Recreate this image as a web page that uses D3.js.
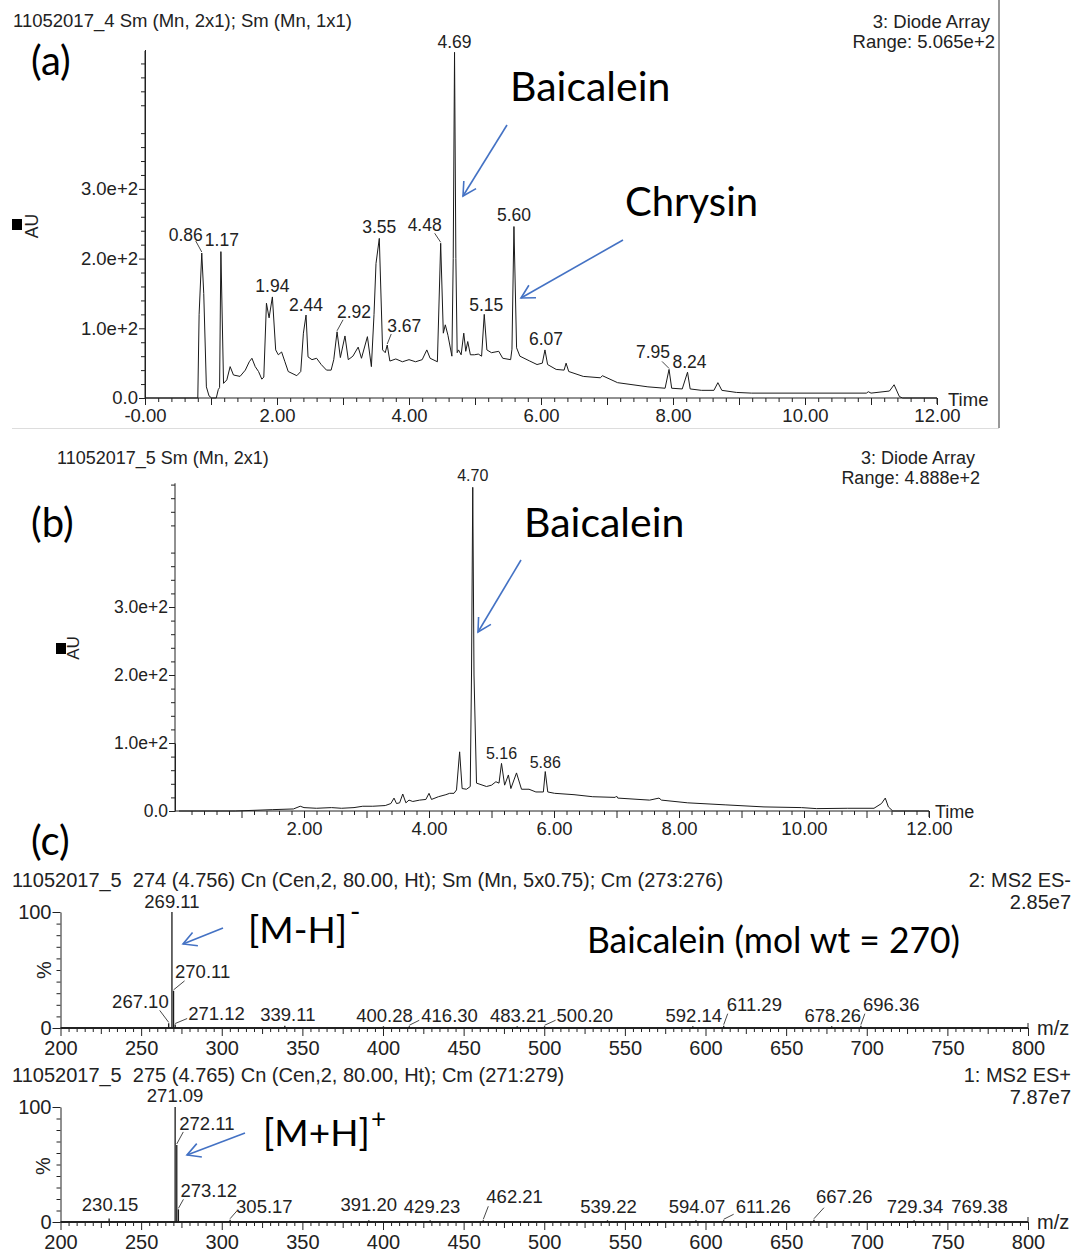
<!DOCTYPE html>
<meta charset="utf-8">
<head>
<title>Baicalein / Chrysin chromatograms</title>
<script src="https://cdn.jsdelivr.net/npm/d3@7/dist/d3.min.js"></script>
<style>
  body { margin: 0; background: #fff; }
  svg text { font-family: "Liberation Sans", Arial, sans-serif; fill: #222; }
  svg text.big { font-family: Lato, "Open Sans", sans-serif; fill: #000; }
  .axis path, .axis line { stroke: #222; }
</style>
</head>
<body>
<div id="chart"></div>
<script>
// ---- data ----
// (a) diode array trace, 11052017_4 : [time (min), AU]
var traceA = [[0,0],[0.80,0],[0.82,120],[0.86,208],[0.89,150],[0.93,16],[0.97,3],[1.01,0],[1.08,0],[1.11,12],[1.13,15],
  [1.15,210],[1.19,21],[1.24,26],[1.29,45],[1.34,33],[1.44,31],[1.52,40],[1.58,52],[1.62,57],[1.67,45],[1.72,38],
  [1.77,27],[1.80,30],[1.84,136],[1.88,115],[1.93,145],[1.98,69],[2.02,62],[2.07,66],[2.12,52],[2.17,38],[2.30,32],
  [2.36,38],[2.40,93],[2.44,119],[2.47,59],[2.53,55],[2.60,57],[2.67,48],[2.75,40],[2.82,40],[2.86,55],[2.91,95],
  [2.96,58],[3.03,89],[3.08,55],[3.15,60],[3.23,73],[3.28,57],[3.37,88],[3.43,45],[3.47,120],[3.50,193],[3.55,229],
  [3.60,69],[3.64,65],[3.67,76],[3.71,53],[3.80,56],[3.90,52],[4.00,55],[4.10,52],[4.20,55],[4.27,69],[4.32,57],
  [4.43,52],[4.48,222],[4.52,93],[4.55,105],[4.59,90],[4.65,60],[4.67,200],[4.69,496],[4.71,200],[4.73,65],[4.75,69],
  [4.79,62],[4.83,93],[4.86,67],[4.89,81],[4.93,62],[4.99,62],[5.05,63],[5.10,60],[5.14,120],[5.18,69],[5.25,65],
  [5.36,67],[5.42,57],[5.54,55],[5.56,70],[5.59,246],[5.63,72],[5.68,60],[5.83,53],[5.94,48],[6.02,50],[6.06,69],
  [6.10,48],[6.23,41],[6.35,40],[6.38,50],[6.42,38],[6.64,31],[6.90,29],[6.93,32],[7.16,22],[7.62,16],[7.88,14],
  [7.94,41],[7.98,14],[8.14,13],[8.22,37],[8.26,13],[8.43,11],[8.62,11],[8.68,22],[8.74,11],[8.96,8],[9.19,7],
  [10.93,7],[10.96,9],[11.00,7],[11.28,10],[11.35,19],[11.43,2],[11.48,0],[12,0]];
var peaksA = [0.86, 1.17, 1.94, 2.44, 2.92, 3.55, 3.67, 4.48, 4.69, 5.15, 5.60, 6.07, 7.95, 8.24];

// (b) diode array trace, 11052017_5
var traceB = [[0,0],[0.9,0],[1.2,1],[1.5,2],[1.83,3],[1.94,7],[2.0,5],[2.2,4],[2.44,5],[2.6,4],[2.8,5],[2.94,7],
  [3.1,7],[3.3,8],[3.39,11],[3.44,19],[3.48,11],[3.53,12],[3.58,25],[3.63,12],[3.68,16],[3.74,14],[3.85,16],
  [3.95,17],[4.0,26],[4.04,17],[4.15,21],[4.27,24],[4.33,26],[4.40,26],[4.44,31],[4.49,87],[4.53,33],[4.60,32],
  [4.66,36],[4.68,200],[4.70,476],[4.72,200],[4.76,41],[4.92,36],[5.0,38],[5.07,43],[5.12,41],[5.16,70],[5.21,38],
  [5.27,53],[5.31,33],[5.40,56],[5.48,32],[5.60,32],[5.71,28],[5.83,28],[5.86,58],[5.90,28],[6.01,26],[6.32,24],
  [6.62,21],[6.98,20],[7.0,22],[7.02,19],[7.53,16],[7.68,19],[7.72,16],[8.14,12],[8.75,9],[9.36,6],[9.96,5],
  [10.2,3.5],[10.7,4],[11.12,4],[11.24,11],[11.30,19],[11.35,6],[11.42,0],[12,0]];
var peaksB = [4.70, 5.16, 5.86];

// (c) MS2 spectra : m/z and relative intensity (%)
var mzNeg  = [267.10, 269.11, 270.11, 271.12, 339.11, 400.28, 416.30, 483.21, 500.20, 592.14, 611.29, 678.26, 696.36];
var intNeg = [4, 100, 32, 3, 2, 1.5, 1.5, 1.5, 1.5, 1.5, 2, 1.5, 2];
var mzPos  = [230.15, 271.09, 272.11, 273.12, 305.17, 391.20, 429.23, 462.21, 539.22, 594.07, 611.26, 667.26, 729.34, 769.38];
var intPos = [3, 100, 67, 11, 2, 1.5, 1.5, 1.5, 1.5, 1.5, 1.5, 2, 1.5, 1.5];

var timeTicks = [0, 2, 4, 6, 8, 10, 12];
var auTicks = [0, 100, 200, 300];
var mzTicks = d3.range(200, 801, 50);

// ---- label layout (offsets from peak apex: dx, dy, anchor, leader dx, leader dy) ----
var layA = {"0.86":[-16,-12,"middle",-6,-12], "1.17":[1,-6,"middle"], "1.94":[0,-5,"middle"], "2.44":[0,-4,"middle"],
  "2.92":[17,-14,"middle",6,-12], "3.55":[0,-5,"middle"], "3.67":[17,-13,"middle",4,-11], "4.48":[-16,-12,"middle",-6,-10],
  "4.69":[0,-4,"middle"], "5.15":[2,-3,"middle"], "5.60":[0,-6,"middle"], "6.07":[1,-5,"middle"],
  "7.95":[-16,-11,"middle",-7,-8], "8.24":[2,-4,"middle"]};
var layB = {"4.70":[0,-6,"middle"], "5.16":[0,-4,"middle"], "5.86":[0,-4,"middle"]};
var layNeg = {"267.10":[0,-15,"end",-9,-13], "269.11":[0,-4,"middle"], "270.11":[1.5,-13,"start",11,-10],
  "271.12":[13,-5,"start",12,-6], "339.11":[3,-5,"middle"], "400.28":[1,-4,"middle"], "416.30":[12,-4,"start",10,-6],
  "483.21":[1,-4,"middle"], "500.20":[12,-4,"start",11,-6], "592.14":[1,-4,"middle"], "611.29":[3,-15,"start",4,-12],
  "678.26":[1,-4,"middle"], "696.36":[2,-15,"start",4,-12]};
var layPos = {"230.15":[1,-8,"middle"], "271.09":[0,-5,"middle"], "272.11":[2.5,-15,"start",6.5,-13],
  "273.12":[2,-12,"start",5,-10], "305.17":[6,-7,"start",7,-9], "391.20":[0,-9,"middle"], "429.23":[2,-7,"middle"],
  "462.21":[3,-17,"start",5,-14], "539.22":[1,-7,"middle"], "594.07":[1,-7,"middle"], "611.26":[12,-7,"start",10,-6],
  "667.26":[2,-17,"start",10,-12], "729.34":[1,-7,"middle"], "769.38":[1,-7,"middle"]};

var W = 1078, H = 1254;
var svg = d3.select("#chart").append("svg").attr("width", W).attr("height", H);

function txt(x, y, s, size, anchor, cls) {
  return svg.append("text").attr("x", x).attr("y", y).attr("font-size", size)
    .attr("text-anchor", anchor || "start").attr("class", cls || null)
    .style("white-space", "pre").text(s);
}

function arrow(x1, y1, x2, y2) {
  var a = Math.atan2(y2 - y1, x2 - x1), L = 15, sp = 0.5;
  var g = svg.append("g").attr("stroke", "#4472C4").attr("stroke-width", 1.6).attr("fill", "none");
  g.append("line").attr("x1", x1).attr("y1", y1).attr("x2", x2).attr("y2", y2);
  g.append("polyline").attr("points", [
    [x2 - L * Math.cos(a - sp), y2 - L * Math.sin(a - sp)], [x2, y2],
    [x2 - L * Math.cos(a + sp), y2 - L * Math.sin(a + sp)]].map(function(p) { return p.join(","); }).join(" "));
}

// chromatogram panel
function chrom(o) {
  var x = o.x, y = o.y, g = svg.append("g");
  // minor / major ticks
  g.append("g").attr("class", "axis").attr("transform", "translate(0," + o.base + ")")
    .call(d3.axisBottom(x).tickValues(d3.range(0.2, 12.01, 0.2).filter(function(d) { return Math.abs(d - Math.round(d)) > 0.01; }))
      .tickSize(4).tickFormat("").tickSizeOuter(0))
    .select(".domain").remove();
  g.append("g").attr("class", "axis").attr("transform", "translate(0," + o.base + ")")
    .call(d3.axisBottom(x).tickValues(d3.range(o.firstMajor, 13, 1)).tickSize(7).tickPadding(4).tickSizeOuter(0)
      .tickFormat(function(d) { return d % 2 ? "" : (d === 0 ? "-0.00" : d.toFixed(2)); }))
    .call(function(s) { s.selectAll("text").attr("font-size", 18.5).attr("fill", "#222"); s.select(".domain").remove(); });
  g.append("line").attr("x1", o.axisX).attr("x2", x(12)).attr("y1", o.base).attr("y2", o.base).attr("stroke", "#222");
  g.append("line").attr("x1", x(12)).attr("x2", x(12)).attr("y1", o.base).attr("y2", o.base + 6).attr("stroke", "#222");

  g.append("g").attr("class", "axis").attr("transform", "translate(" + o.axisX + ",0)")
    .call(d3.axisLeft(y).tickValues(d3.range(20, o.ymax, 20).filter(function(d) { return d % 100; })).tickSize(4).tickFormat("").tickSizeOuter(0));
  g.append("g").attr("class", "axis").attr("transform", "translate(" + o.axisX + ",0)")
    .call(d3.axisLeft(y).tickValues(auTicks).tickSize(6).tickPadding(1).tickSizeOuter(0)
      .tickFormat(function(d) { return d === 0 ? "0.0" : (d / 100).toFixed(1) + "e+2"; }))
    .call(function(s) { s.selectAll("text").attr("font-size", o.ySize).attr("fill", "#222"); s.select(".domain").remove(); });
  g.append("line").attr("x1", o.axisX).attr("x2", o.axisX).attr("y1", o.base).attr("y2", y(o.ymax)).attr("stroke", "#222");

  g.append("path").datum(o.trace).attr("fill", "none").attr("stroke", "#1a1a1a").attr("stroke-width", 1)
    .attr("stroke-linejoin", "round")
    .attr("d", d3.line().x(function(d) { return x(d[0]); }).y(function(d) { return y(d[1]); }));

  // peak labels at the local apex of the trace
  o.peaks.forEach(function(t) {
    var near = o.trace.filter(function(d) { return Math.abs(d[0] - t) <= 0.05; });
    var ap = near.reduce(function(a, b) { return b[1] > a[1] ? b : a; });
    var lab = t.toFixed(2), L = o.lay[lab], px = x(ap[0]), py = y(ap[1]);
    g.append("text").attr("x", px + L[0]).attr("y", py + L[1]).attr("text-anchor", L[2])
      .attr("font-size", o.labSize).text(lab);
    if (L[3] !== undefined)
      g.append("line").attr("x1", px + L[3]).attr("y1", py + L[4]).attr("x2", px).attr("y2", py - 1)
        .attr("stroke", "#333").attr("stroke-width", 0.9);
  });
}

// spectrum panel
function spec(o) {
  var x = o.x, y = o.y, g = svg.append("g");
  g.append("g").attr("class", "axis").attr("transform", "translate(0," + o.base + ")")
    .call(d3.axisBottom(x).tickValues(d3.range(205, 800, 5).filter(function(d) { return d % 25; })).tickSize(4).tickFormat("").tickSizeOuter(0))
    .select(".domain").remove();
  g.append("g").attr("class", "axis").attr("transform", "translate(0," + o.base + ")")
    .call(d3.axisBottom(x).tickValues(d3.range(225, 800, 50)).tickSize(6).tickFormat("").tickSizeOuter(0))
    .select(".domain").remove();
  g.append("g").attr("class", "axis").attr("transform", "translate(0," + o.base + ")")
    .call(d3.axisBottom(x).tickValues(mzTicks).tickSize(8).tickPadding(5).tickSizeOuter(0))
    .call(function(s) { s.selectAll("text").attr("font-size", 20).attr("fill", "#222"); s.select(".domain").remove(); });
  g.append("line").attr("x1", x(200)).attr("x2", x(800)).attr("y1", o.base).attr("y2", o.base)
    .attr("stroke", "#222").attr("stroke-width", 2.2);
  g.append("line").attr("x1", x(800)).attr("x2", x(800)).attr("y1", o.base).attr("y2", o.base - 5).attr("stroke", "#222");

  g.append("g").attr("class", "axis").attr("transform", "translate(" + x(200) + ",0)")
    .call(d3.axisLeft(y).tickValues(d3.range(10, 100, 10)).tickSize(4).tickFormat("").tickSizeOuter(0))
    .select(".domain").remove();
  g.append("g").attr("class", "axis").attr("transform", "translate(" + x(200) + ",0)")
    .call(d3.axisLeft(y).tickValues([0, 100]).tickSize(8).tickPadding(1).tickSizeOuter(0))
    .call(function(s) { s.selectAll("text").attr("font-size", 20).attr("fill", "#222"); s.select(".domain").attr("stroke", "#222"); });

  g.selectAll("line.bar").data(o.mz).enter().append("line").attr("class", "bar")
    .attr("x1", function(d) { return x(d); }).attr("x2", function(d) { return x(d); })
    .attr("y1", o.base).attr("y2", function(d, i) { return y(o.ints[i]); })
    .attr("stroke", "#1a1a1a").attr("stroke-width", 1.3);

  o.mz.forEach(function(m, i) {
    var lab = m.toFixed(2), L = o.lay[lab], px = x(m), py = y(o.ints[i]);
    g.append("text").attr("x", px + L[0]).attr("y", py + L[1]).attr("text-anchor", L[2])
      .attr("font-size", 18.5).text(lab);
    if (L[3] !== undefined)
      g.append("line").attr("x1", px + L[3]).attr("y1", py + L[4]).attr("x2", px).attr("y2", py - 1)
        .attr("stroke", "#333").attr("stroke-width", 0.9);
  });
}

// ---------- panel (a) ----------
svg.append("line").attr("x1", 999).attr("x2", 999).attr("y1", 0).attr("y2", 428).attr("stroke", "#333");
svg.append("line").attr("x1", 12).attr("x2", 999).attr("y1", 428.5).attr("y2", 428.5).attr("stroke", "#ddd");
txt(13, 27, "11052017_4 Sm (Mn, 2x1); Sm (Mn, 1x1)", 18.5);
txt(990, 28, "3: Diode Array", 18.5, "end");
txt(995, 48, "Range: 5.065e+2", 18.5, "end");
chrom({
  x: d3.scaleLinear().domain([0, 12]).range([145, 937]),
  y: d3.scaleLinear().domain([0, 500]).range([398, 49.5]),
  base: 398, axisX: 145, ymax: 498, firstMajor: 0,
  trace: traceA, peaks: peaksA, lay: layA, labSize: 17.5, ySize: 18.5
});
svg.append("rect").attr("x", 12).attr("y", 219).attr("width", 10).attr("height", 11).attr("fill", "#000");
txt(0, 0, "AU", 17.5, "middle").attr("transform", "translate(38,226) rotate(-90)");
txt(948, 406, "Time", 18.5);
txt(31, 75, "(a)", 40, "start", "big");
txt(510, 101, "Baicalein", 41, "start", "big");
txt(625, 216, "Chrysin", 40, "start", "big");
arrow(507, 125, 463, 196);
arrow(623, 240, 521, 298);

// ---------- panel (b) ----------
txt(57, 464, "11052017_5 Sm (Mn, 2x1)", 18);
txt(975, 464, "3: Diode Array", 18, "end");
txt(980, 484, "Range: 4.888e+2", 18, "end");
chrom({
  x: d3.scaleLinear().domain([0, 12]).range([179, 929]),
  y: d3.scaleLinear().domain([0, 100]).range([811, 743]),
  base: 811, axisX: 175, ymax: 482, firstMajor: 1,
  trace: traceB, peaks: peaksB, lay: layB, labSize: 16, ySize: 17.5
});
svg.append("rect").attr("x", 56).attr("y", 643).attr("width", 10).attr("height", 11).attr("fill", "#000");
txt(0, 0, "AU", 17, "middle").attr("transform", "translate(79,648) rotate(-90)");
txt(935, 818, "Time", 18);
txt(31, 537, "(b)", 40, "start", "big");
txt(524, 537, "Baicalein", 41, "start", "big");
arrow(521, 560, 478, 632);

// ---------- panel (c) ----------
txt(31, 855, "(c)", 40, "start", "big");
txt(12, 887, "11052017_5  274 (4.756) Cn (Cen,2, 80.00, Ht); Sm (Mn, 5x0.75); Cm (273:276)", 20);
txt(1071, 887, "2: MS2 ES-", 20, "end");
txt(1071, 909, "2.85e7", 20, "end");
var xC = d3.scaleLinear().domain([200, 800]).range([60.5, 1028]);
spec({ x: xC, y: d3.scaleLinear().domain([0, 100]).range([1028, 912]), base: 1028, mz: mzNeg, ints: intNeg, lay: layNeg });
txt(0, 0, "%", 20, "middle").attr("transform", "translate(51,970) rotate(-90)");
txt(1037, 1035, "m/z", 20);
txt(248, 943, "[M-H]", 37, "start", "big");
txt(350, 922, "-", 28, "start", "big");
txt(587, 953, "Baicalein (mol wt = 270)", 37, "start", "big").attr("textLength", 373).attr("lengthAdjust", "spacingAndGlyphs");
arrow(223, 928, 183, 944);

txt(12, 1082, "11052017_5  275 (4.765) Cn (Cen,2, 80.00, Ht); Cm (271:279)", 20);
txt(1071, 1082, "1: MS2 ES+", 20, "end");
txt(1071, 1104, "7.87e7", 20, "end");
spec({ x: xC, y: d3.scaleLinear().domain([0, 100]).range([1222, 1107]), base: 1222, mz: mzPos, ints: intPos, lay: layPos });
txt(0, 0, "%", 20, "middle").attr("transform", "translate(50,1166) rotate(-90)");
txt(1037, 1229, "m/z", 20);
txt(263, 1146, "[M+H]", 37, "start", "big");
txt(371, 1128, "+", 26, "start", "big");
arrow(245, 1133, 187, 1155);
</script>
</body>
